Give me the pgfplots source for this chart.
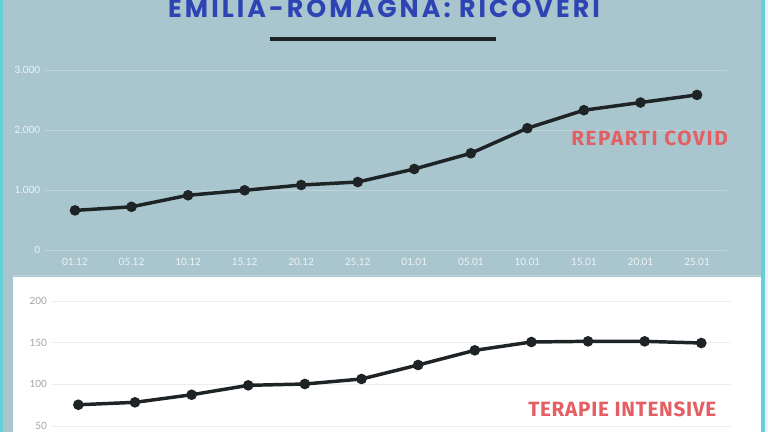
\documentclass[border=0pt]{standalone}
\usepackage{pgfplots}
\pgfplotsset{compat=1.18}
\usepackage{fontspec}
\setmainfont{Lato}
\newfontfamily\titlefont{Poppins}[LetterSpace=12]
\newfontfamily\labfontA{Fira Sans}[LetterSpace=8]
\newfontfamily\labfontB{Fira Sans}[LetterSpace=3.5]
\newfontfamily\tickfont{Lato}

\definecolor{bgblue}{HTML}{A9C6CE}
\definecolor{edgecyan}{HTML}{62D2D6}
\definecolor{gridtop}{HTML}{BCD5DC}
\definecolor{gridbot}{HTML}{EDEDED}
\definecolor{linecol}{HTML}{1E2326}
\definecolor{redlab}{HTML}{E35F63}
\definecolor{titleblue}{HTML}{2F44B4}
\definecolor{ticktop}{HTML}{EEF3F5}
\definecolor{tickbot}{HTML}{A5A5A5}

\pgfplotsset{
  ricoveri/.style={
    scale only axis,
    axis line style={draw=none},
    ymajorgrids,
    xtick={0,...,11},
    tick style={draw=none},
    tick label style={font=\tickfont\fontsize{7.5}{9}\selectfont},
    /pgf/number format/assume math mode=true,
    clip=false,
  },
  serie/.style={linecol, line width=2.6pt, mark=*, mark size=2.6pt,
    mark options={fill=linecol, draw=linecol}},
}

\begin{document}
\begin{tikzpicture}
\useasboundingbox (0pt,0pt) rectangle (576pt,-324pt);
\clip (0pt,0pt) rectangle (576pt,-324pt);

\begin{scope}[x=0.75pt, y=-0.75pt]
  \fill[bgblue] (0,0) rectangle (768,432);
  \fill[edgecyan] (0,0) rectangle (3,432);
  \fill[edgecyan] (761,0) rectangle (765,432);
  \fill[white!94!blue] (765,0) rectangle (768,432);
  \fill[white] (13,277) rectangle (761,432);
  \draw[gridtop, line width=0.6pt] (13,275) -- (761,275);

  \node[anchor=base, text=titleblue, inner sep=0pt]
    at (384,17) {\titlefont\bfseries\fontsize{19}{22}\selectfont EMILIA-ROMAGNA: RICOVERI};
  \draw[linecol, line width=3pt] (270,39) -- (496,39);
\end{scope}

% reparti covid
\begin{axis}[ricoveri,
  at={(33.75pt,-187.5pt)}, anchor=south west,
  width=511.5pt, height=135pt,
  xmin=-0.53, xmax=11.53, ymin=0, ymax=3000,
  ytick={0,1000,2000,3000},
  yticklabels={0,1.000,2.000,3.000},
  grid style={gridtop, line width=0.6pt},
  xticklabels={01.12,05.12,10.12,15.12,20.12,25.12,01.01,05.01,10.01,15.01,20.01,25.01},
  tick label style={text=ticktop},
  xticklabel style={yshift=-3pt},
]
\addplot[serie] coordinates {
  (0,660) (1,720) (2,912) (3,995) (4,1083) (5,1133)
  (6,1350) (7,1612) (8,2030) (9,2330) (10,2458) (11,2585)
};
\end{axis}

% terapie intensive
\begin{axis}[ricoveri,
  at={(38.8pt,-324pt)}, anchor=south west,
  width=509.25pt, height=98.25pt,
  xmin=-0.47, xmax=11.52, ymin=42.8, ymax=200,
  ytick={50,100,150,200},
  xticklabels={},
  grid style={gridbot, line width=0.6pt},
  tick label style={text=tickbot},
]
\addplot[serie] coordinates {
  (0,75.5) (1,78.4) (2,87.5) (3,98.8) (4,100.4) (5,106.4)
  (6,123.2) (7,140.8) (8,150.8) (9,151.6) (10,151.6) (11,149.6)
};
\end{axis}

\begin{scope}[x=0.75pt, y=-0.75pt]
  \node[anchor=base west, text=redlab, inner sep=0pt]
    at (571,145) {\labfontA\bfseries\fontsize{15.5}{18}\selectfont REPARTI COVID};
  \node[anchor=base west, text=redlab, inner sep=0pt]
    at (528,416.5) {\labfontB\bfseries\fontsize{15.5}{18}\selectfont TERAPIE INTENSIVE};
\end{scope}
\end{tikzpicture}
\end{document}
